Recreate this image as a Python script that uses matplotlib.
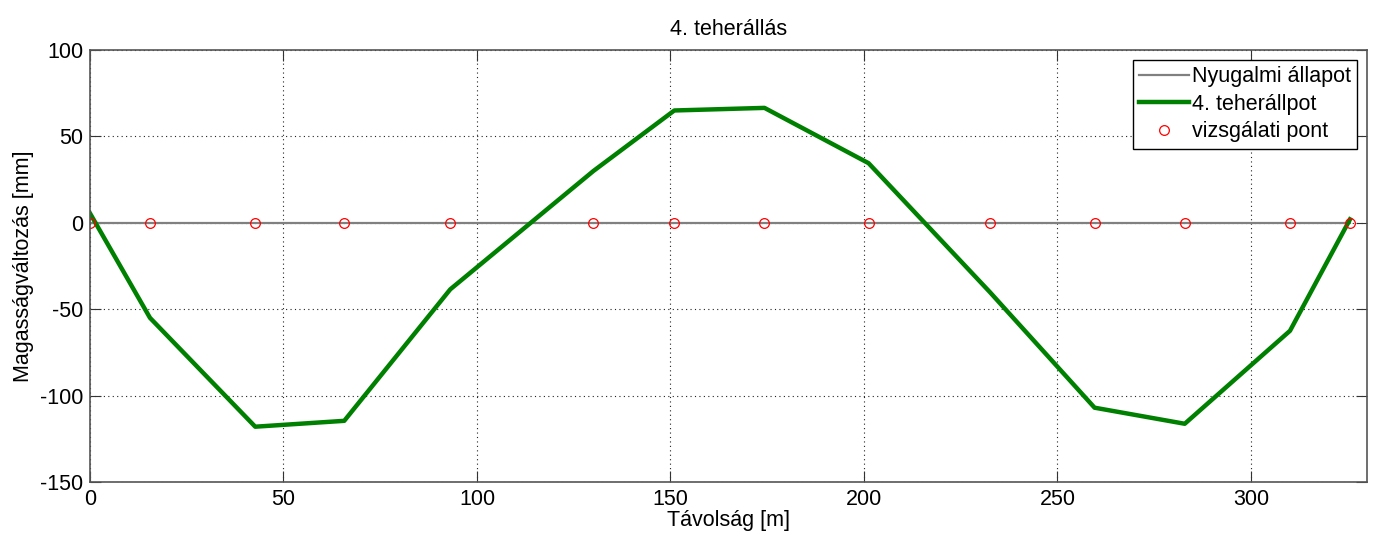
import numpy as np
import matplotlib
matplotlib.use("Agg")
from matplotlib import pyplot as plt

plt.rcParams['font.family'] = ['Liberation Sans', 'DejaVu Sans']
plt.rcParams['axes.unicode_minus'] = False

# measurement points along the bridge [m]
tavolsag = [0, 15.5, 42.7, 65.7, 93.1, 130.1, 151.0, 174.3, 201.2, 232.5, 259.6, 282.9, 310.1, 325.6]
# vertical displacement in load case 4 [mm]
elmozdulas = [5.5, -55, -118, -114.6, -38.5, 30, 65, 66.5, 34.5, -40, -107, -116.3, -62.5, 2]
nyugalmi = [0] * len(tavolsag)

fig = plt.figure(figsize=(13.79, 5.37), dpi=100)
ax = fig.add_axes([90 / 1379, 1 - 482 / 537, 1277 / 1379, 432 / 537])

ax.plot(tavolsag, nyugalmi, color=(0.5, 0.5, 0.5), lw=1.6, label="Nyugalmi állapot")
ax.plot(tavolsag, elmozdulas, color=(0, 0.5, 0), lw=3.2, label="4. teherállpot")
ax.plot(tavolsag, nyugalmi, 'o', mfc='none', mec='red', ms=7, mew=0.9, label="vizsgálati pont")

ax.set_xlim(0, 330)
ax.set_ylim(-150, 100)
ax.set_xticks(np.arange(0, 301, 50))
ax.set_yticks(np.arange(-150, 101, 50))
ax.grid(True, linestyle=(0, (1, 3)), color='#222222', lw=0.8)
ax.tick_params(direction='in', top=True, right=True, length=8, labelsize=15.5,
               color='#333333', pad=5)
for s in ax.spines.values():
    s.set_color('#555555')
    s.set_linewidth(1.2)

ax.set_title("4. teherállás", fontsize=15.5, pad=11)
ax.set_xlabel("Távolság [m]", fontsize=15.5, labelpad=0)
ax.set_ylabel("Magasságváltozás [mm]", fontsize=15.5, labelpad=4)

leg = ax.legend(loc='upper right', fontsize=15.5, fancybox=False, framealpha=1,
                edgecolor='black', borderpad=0.3, labelspacing=0.3, handlelength=2.3,
                handletextpad=0.15, borderaxespad=0.45)
leg.get_frame().set_linewidth(1.0)

fig.savefig("out.png", dpi=100)
